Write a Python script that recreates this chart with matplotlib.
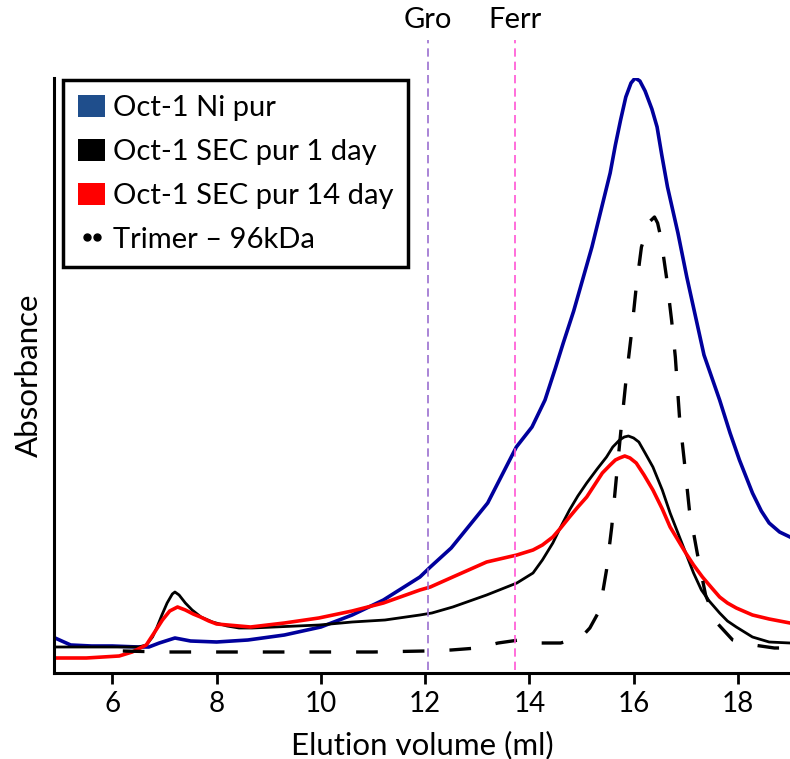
import numpy as np
import matplotlib
matplotlib.use("Agg")
import matplotlib.pyplot as plt
from matplotlib.patches import Patch
from matplotlib.lines import Line2D

plt.rcParams['font.family'] = ['Lato', 'DejaVu Sans']

# elution volume (ml) / absorbance (arbitrary units)
ni_vol = [4.9, 5.2, 5.6, 6.0, 6.5, 6.7, 6.9, 7.2, 7.5, 8.0, 8.6, 9.3, 10.0, 10.6,
          11.2, 11.9, 12.1, 12.5, 13.2, 13.75, 14.05, 14.3, 14.5, 14.65, 14.85,
          15.2, 15.55, 15.65, 15.75, 15.85, 15.95, 16.03, 16.12, 16.22, 16.35,
          16.45, 16.54, 16.65, 16.85, 17.02, 17.35, 17.65, 17.85, 18.03, 18.28,
          18.45, 18.6, 18.8, 19.0]
ni_abs = [35, 28, 27, 27, 26, 26, 30, 35, 32, 31, 33, 38, 46, 58,
          73, 96, 106, 125, 170, 226, 246, 273, 305, 330, 362,
          426, 500, 528, 553, 576, 590, 595, 592, 582, 564,
          546, 518, 486, 440, 396, 318, 273, 240, 213, 180,
          162, 150, 141, 136]

d1_vol = [4.9, 6.5, 6.65, 6.77, 6.85, 6.95, 7.05, 7.15, 7.2, 7.28, 7.4, 7.53,
          7.7, 7.92, 8.2, 8.43, 8.68, 9.97, 10.6, 11.23, 11.9, 12.13, 12.53,
          13.18, 13.76, 14.07, 14.25, 14.45, 14.6, 14.77, 14.93, 15.1, 15.3,
          15.48, 15.6, 15.73, 15.82, 15.9, 16.0, 16.1, 16.22, 16.37, 16.55,
          16.7, 16.85, 17.0, 17.15, 17.3, 17.45, 17.65, 17.8, 17.97, 18.28,
          18.6, 19.0]
d1_abs = [26, 26, 28, 36, 45, 58, 70, 79, 81, 78, 70, 63,
          56, 51, 47, 45, 45, 48, 51, 53, 58, 60, 66,
          78, 90, 100, 113, 130, 146, 163, 177, 190, 204,
          216, 226, 233, 236, 237, 235, 231, 220, 206, 183,
          160, 140, 120, 100, 83, 72, 60, 52, 46, 36,
          31, 30]

d14_vol = [4.9, 5.5, 6.13, 6.38, 6.65, 6.8, 6.96, 7.1, 7.25, 7.4, 7.55, 7.69,
           7.85, 8.0, 8.65, 9.3, 9.96, 10.6, 11.2, 11.9, 12.1, 12.53, 13.18,
           13.76, 14.07, 14.25, 14.45, 14.6, 14.77, 14.93, 15.1, 15.25, 15.4,
           15.55, 15.65, 15.73, 15.83, 15.93, 16.05, 16.2, 16.37, 16.55, 16.7,
           16.85, 17.0, 17.15, 17.32, 17.5, 17.65, 17.8, 17.97, 18.28, 18.6, 19.0]
d14_abs = [15, 15, 17, 21, 28, 40, 53, 62, 66, 63, 59, 56,
           52, 49, 46, 50, 55, 62, 70, 83, 86, 96, 111,
           118, 123, 128, 136, 145, 156, 166, 176, 188, 200,
           208, 213, 215, 217, 215, 210, 198, 183, 164, 146,
           133, 120, 108, 96, 85, 76, 70, 65, 58, 54, 50]

tri_vol = [6.2, 7.0, 8.0, 9.0, 10.0, 11.0, 12.0, 12.5, 13.0, 13.4, 13.8, 14.2,
           14.6, 15.0, 15.16, 15.35, 15.48, 15.58, 15.67, 15.77, 15.86, 15.95,
           16.05, 16.15, 16.25, 16.32, 16.4, 16.46, 16.52, 16.63, 16.73, 16.8,
           16.88, 16.97, 17.07, 17.22, 17.38, 17.6, 17.9, 18.3, 18.7, 19.0]
tri_abs = [22, 21, 21, 21, 21, 21, 22, 23, 25, 30, 33, 30,
           30, 36, 45, 63, 103, 146, 196, 250, 296, 336,
           386, 426, 442, 452, 456, 450, 436, 396, 352, 316,
           256, 213, 163, 120, 78, 50, 33, 28, 25, 25]

markers = ["Gro", "Ferr"]
marker_vol = [12.05, 13.73]
marker_col = ["#9b6fd0", "#ff55d4"]

legend_labels = ["Oct-1 Ni pur", "Oct-1 SEC pur 1 day", "Oct-1 SEC pur 14 day", "Trimer \u2013 96kDa"]

fig = plt.figure(figsize=(7.9, 7.59), dpi=100)
ax = fig.add_axes([54 / 790, 86 / 759, 1 - 54 / 790, 595 / 759])

ax.plot(ni_vol, ni_abs, color="#00009c", lw=2.6)
ax.plot(d1_vol, d1_abs, color="black", lw=2.0)
ax.plot(d14_vol, d14_abs, color="#ff0000", lw=2.6)
ax.plot(tri_vol, tri_abs, color="black", lw=2.4, dashes=(6.5, 7.5))

for name, v, c in zip(markers, marker_vol, marker_col):
    ax.axvline(v, ymin=0.005, ymax=1.064, color=c, lw=1.2, dashes=(5, 3), clip_on=False)
    ax.text(v, 1.097, name, transform=ax.get_xaxis_transform(), ha="center", va="center",
            fontsize=21)

ax.set_xlim(4.88, 19.0)
ax.set_ylim(0, 595)
ax.set_xticks([6, 8, 10, 12, 14, 16, 18])
ax.set_yticks([])
ax.tick_params(axis="x", direction="out", length=8, width=2, labelsize=20, pad=5)
for s in ["top", "right"]:
    ax.spines[s].set_visible(False)
for s in ["left", "bottom"]:
    ax.spines[s].set_linewidth(2.2)
ax.set_xlabel("Elution volume (ml)", fontsize=22.5, labelpad=10)
ax.set_ylabel("Absorbance", fontsize=22.5, labelpad=8)

handles = [Patch(facecolor="#1f4e8c"), Patch(facecolor="black"), Patch(facecolor="#ff0000"),
           Line2D([], [], color="black", ls="none", marker="o", markersize=5)]
leg = ax.legend(handles, legend_labels, loc="upper left", bbox_to_anchor=(0.0125, 0.996),
                fontsize=21, frameon=True, fancybox=False, framealpha=1,
                handlelength=0.95, handleheight=0.8, handletextpad=0.25, numpoints=2,
                borderpad=0.5, labelspacing=0.6, borderaxespad=0)
leg.get_frame().set_edgecolor("black")
leg.get_frame().set_linewidth(2.5)

fig.savefig("out.png", dpi=100)
